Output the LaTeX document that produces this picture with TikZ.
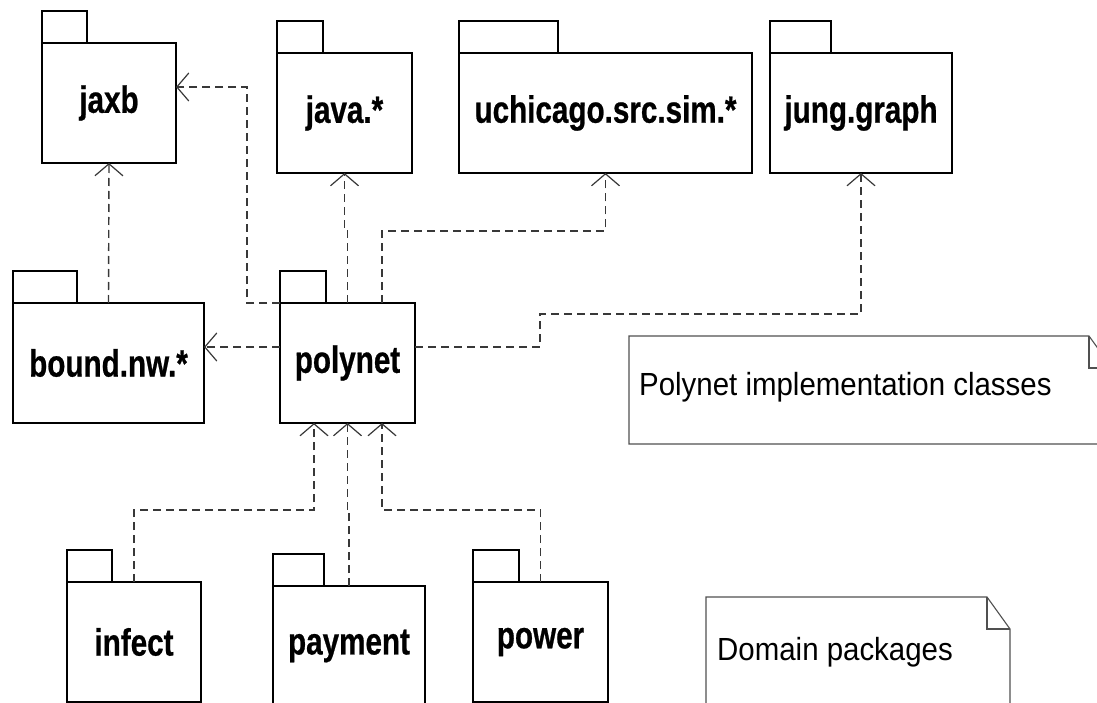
\documentclass[tikz,border=0pt]{standalone}
\usepackage{fontspec}
\usepackage{tikz}
\usetikzlibrary{arrows.meta,positioning}

\newfontfamily\pkgfont{Liberation Sans}[FakeStretch=0.78,FakeBold=0.6]
\newfontfamily\notefont{Liberation Sans}[FakeStretch=0.92]

% package: name, x, y (top of body), body width, tab width, label
\newcommand{\umlpkg}[6]{%
  \node[pkgbody,minimum width=#4pt,anchor=north west] (#1) at (#2,#3) {#6};
  \node[pkgtab,minimum width=#5pt,anchor=south west] (#1-tab) at (#1.north west) {};
}

\begin{document}
\begin{tikzpicture}[x=1pt,y=-1pt,
            pkgbody/.style={draw=black,line width=2pt,outer sep=0pt,minimum height=120pt,
                            font=\pkgfont\bfseries\fontsize{38}{42}\selectfont},
            pkgtab/.style={draw=black,line width=2pt,outer sep=0pt,minimum height=32pt},
            dep/.style={draw={rgb,255:red,56;green,56;blue,56},line width=1.4pt,
                        dash pattern=on 8pt off 5pt,
                        -{Straight Barb[length=12pt,width=28pt,line width=1.2pt]}},
            notebox/.style={draw={rgb,255:red,80;green,80;blue,80},line width=1.1pt},
            notetext/.style={inner sep=0pt,font=\notefont\fontsize{32}{36}\selectfont}]
            \fill[white] (0,0) rectangle (1097,703);
            \useasboundingbox (0,0) rectangle (1097,703);

            \umlpkg{jaxb}{42}{43}{134}{45}{jaxb}
            \umlpkg{java}{277}{53}{135}{46}{java.*}
            \umlpkg{uchicago}{459}{53}{293}{99}{uchicago.src.sim.*}
            \umlpkg{jung}{770}{53}{182}{61}{jung.graph}
            \umlpkg{bound}{13}{303}{191}{64}{bound.nw.*}
            \umlpkg{polynet}{280}{303}{135}{46}{polynet}
            \umlpkg{infect}{67}{582}{134}{45}{infect}
            \umlpkg{payment}{273}{586}{152}{51}{payment}
            \umlpkg{power}{473}{582}{135}{46}{power}

            \draw[dep] (polynet.north west) -- ++(-33,0) |- ([yshift=16pt]jaxb.east);
            \draw[dep] (polynet.north) -- ++(0,-73) -| (java.south);
            \draw[dep] ([xshift=34.5pt]polynet.north) -- ++(0,-72) -| (uchicago.south);
            \draw[dep] ([yshift=16pt]polynet.east) -- ++(125,0) -- ++(0,-33) -| (jung.south);
            \draw[dep] ([yshift=16pt]polynet.west) -- ([yshift=16pt]bound.east);
            \draw[dep] (bound.north) -- (jaxb.south);

            \draw[dep] (infect.north) -- ++(0,-72) -| ([xshift=-33.5pt]polynet.south);
            \draw[dep] (payment.north) -- ++(0,-74) -| (polynet.south);
            \draw[dep] (power.north) -- ++(0,-72) -| ([xshift=34.5pt]polynet.south);

            \node[notetext,anchor=base west] (implnote) at (639,395) {Polynet implementation classes};
            \draw[notebox] (629,336) -- (1089,336) -- (1112,368) -- (1112,444) -- (629,444) -- cycle;
            \draw[notebox] (1089,336) -- (1089,368) -- (1112,368);

            \node[notetext,anchor=base west] (domainnote) at (717,660) {Domain packages};
            \draw[notebox] (706,730) -- (706,597) -- (987,597) -- (1010,629) -- (1010,730);
            \draw[notebox] (987,597) -- (987,629) -- (1010,629);
\end{tikzpicture}
\end{document}
